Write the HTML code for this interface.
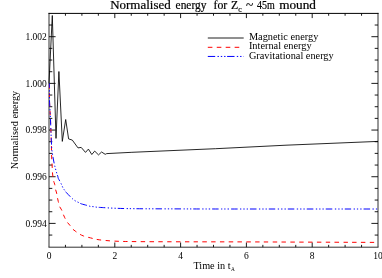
<!DOCTYPE html>
<html><head><meta charset="utf-8"><style>
html,body{margin:0;padding:0;background:#fff;}
body{width:382px;height:278px;overflow:hidden;}
svg{display:block;will-change:transform;}
text{font-family:"Liberation Serif",serif;fill:#000;}
</style></head><body>
<svg width="382" height="278" viewBox="0 0 382 278">
<path d="M49.0,247.2 V12.9 M378.0,12.9 V247.2 M48.5,247.2 H378.5" fill="none" stroke="#303030" stroke-width="1"/>
<path d="M48.5,13.4 H378.5" fill="none" stroke="#000" stroke-width="1"/>
<path d="M65.45,247.2 v-2.35 M65.45,13.4 v2.35 M81.90,247.2 v-2.35 M81.90,13.4 v2.35 M98.35,247.2 v-2.35 M98.35,13.4 v2.35 M114.80,247.2 v-4.7 M114.80,13.4 v4.7 M131.25,247.2 v-2.35 M131.25,13.4 v2.35 M147.70,247.2 v-2.35 M147.70,13.4 v2.35 M164.15,247.2 v-2.35 M164.15,13.4 v2.35 M180.60,247.2 v-4.7 M180.60,13.4 v4.7 M197.05,247.2 v-2.35 M197.05,13.4 v2.35 M213.50,247.2 v-2.35 M213.50,13.4 v2.35 M229.95,247.2 v-2.35 M229.95,13.4 v2.35 M246.40,247.2 v-4.7 M246.40,13.4 v4.7 M262.85,247.2 v-2.35 M262.85,13.4 v2.35 M279.30,247.2 v-2.35 M279.30,13.4 v2.35 M295.75,247.2 v-2.35 M295.75,13.4 v2.35 M312.20,247.2 v-4.7 M312.20,13.4 v4.7 M328.65,247.2 v-2.35 M328.65,13.4 v2.35 M345.10,247.2 v-2.35 M345.10,13.4 v2.35 M361.55,247.2 v-2.35 M361.55,13.4 v2.35 M49.0,235.07 h3.3 M378.0,235.07 h-3.3 M49.0,223.40 h6.6 M378.0,223.40 h-6.6 M49.0,211.73 h3.3 M378.0,211.73 h-3.3 M49.0,200.06 h3.3 M378.0,200.06 h-3.3 M49.0,188.39 h3.3 M378.0,188.39 h-3.3 M49.0,176.73 h6.6 M378.0,176.73 h-6.6 M49.0,165.06 h3.3 M378.0,165.06 h-3.3 M49.0,153.39 h3.3 M378.0,153.39 h-3.3 M49.0,141.72 h3.3 M378.0,141.72 h-3.3 M49.0,130.05 h6.6 M378.0,130.05 h-6.6 M49.0,118.38 h3.3 M378.0,118.38 h-3.3 M49.0,106.71 h3.3 M378.0,106.71 h-3.3 M49.0,95.04 h3.3 M378.0,95.04 h-3.3 M49.0,83.38 h6.6 M378.0,83.38 h-6.6 M49.0,71.71 h3.3 M378.0,71.71 h-3.3 M49.0,60.04 h3.3 M378.0,60.04 h-3.3 M49.0,48.37 h3.3 M378.0,48.37 h-3.3 M49.0,36.70 h6.6 M378.0,36.70 h-6.6 M49.0,25.03 h3.3 M378.0,25.03 h-3.3" stroke="#000" stroke-width="0.9" fill="none"/>
<path d="M49.40,83.40 C49.42,86.17 49.40,95.57 49.50,100.00 C49.60,104.43 49.83,106.67 50.00,110.00 C50.17,113.33 50.35,116.67 50.50,120.00 C50.65,123.33 50.77,126.33 50.90,130.00 C51.03,133.67 51.20,138.67 51.30,142.00 C51.40,145.33 51.43,147.33 51.50,150.00 C51.57,152.67 51.60,155.50 51.70,158.00 C51.80,160.50 51.97,162.50 52.10,165.00 C52.23,167.50 52.27,170.43 52.50,173.00 C52.73,175.57 53.13,178.52 53.50,180.40 C53.87,182.28 54.37,182.85 54.70,184.30 C55.03,185.75 55.18,187.65 55.50,189.10 C55.82,190.55 56.30,191.68 56.60,193.00 C56.90,194.32 57.02,195.57 57.30,197.00 C57.58,198.43 57.93,200.05 58.30,201.60 C58.67,203.15 58.95,204.92 59.50,206.30 C60.05,207.68 60.98,208.58 61.60,209.90 C62.22,211.22 62.67,212.88 63.20,214.20 C63.73,215.52 64.15,216.50 64.80,217.80 C65.45,219.10 66.25,220.75 67.10,222.00 C67.95,223.25 69.00,224.15 69.90,225.30 C70.80,226.45 71.52,227.87 72.50,228.90 C73.48,229.93 74.65,230.65 75.80,231.50 C76.95,232.35 78.10,233.25 79.40,234.00 C80.70,234.75 81.73,235.35 83.60,236.00 C85.47,236.65 88.02,237.27 90.60,237.90 C93.18,238.53 95.17,239.27 99.10,239.80 C103.03,240.33 108.38,240.80 114.20,241.10 C120.02,241.40 123.03,241.48 134.00,241.60 C144.97,241.72 161.67,241.75 180.00,241.80 C198.33,241.85 211.00,241.80 244.00,241.90 C277.00,242.00 355.67,242.32 378.00,242.40" stroke="#ff0000" stroke-width="1" fill="none" stroke-dasharray="4.4 4.4" stroke-dashoffset="7.76" id="rd"/>
<path d="M49.40,83.40 C49.42,86.17 49.40,95.57 49.50,100.00 C49.60,104.43 49.83,106.67 50.00,110.00 C50.17,113.33 50.35,116.67 50.50,120.00 C50.65,123.33 50.75,126.33 50.90,130.00 C51.05,133.67 51.23,138.67 51.40,142.00 C51.57,145.33 51.55,147.00 51.90,150.00 C52.25,153.00 52.97,157.12 53.50,160.00 C54.03,162.88 54.53,165.03 55.10,167.30 C55.67,169.57 56.45,172.12 56.90,173.60 C57.35,175.08 57.57,175.40 57.80,176.20 C58.03,177.00 57.88,177.43 58.30,178.40 C58.72,179.37 59.75,180.95 60.30,182.00 C60.85,183.05 61.15,183.72 61.60,184.70 C62.05,185.68 62.47,186.93 63.00,187.90 C63.53,188.87 64.23,189.72 64.80,190.50 C65.37,191.28 65.37,191.45 66.40,192.60 C67.43,193.75 69.88,196.28 71.00,197.40 C72.12,198.52 72.32,198.68 73.10,199.30 C73.88,199.92 74.77,200.57 75.70,201.10 C76.63,201.63 77.73,202.03 78.70,202.50 C79.67,202.97 79.98,203.38 81.50,203.90 C83.02,204.42 86.32,205.18 87.80,205.60 C89.28,206.02 89.43,206.22 90.40,206.40 C91.37,206.58 92.52,206.57 93.60,206.70 C94.68,206.83 95.88,207.08 96.90,207.20 C97.92,207.32 96.82,207.23 99.70,207.40 C102.58,207.57 108.42,207.98 114.20,208.20 C119.98,208.42 123.43,208.58 134.40,208.70 C145.37,208.82 163.90,208.85 180.00,208.90 C196.10,208.95 198.00,208.98 231.00,209.00 C264.00,209.02 353.50,209.00 378.00,209.00" stroke="#0000ff" stroke-width="1" fill="none" stroke-dasharray="6.5 2.5 1.3 2 1.3 2 1.3 2" stroke-dashoffset="2.1" id="bl"/>
<path d="M49.0,83.4 L52.3,15.5 L56.0,138.4 L58.9,71.5 L62.3,141.4 L65.7,119.5 L68.6,138.9 L72.3,140.1 L78.0,147.9 L81.2,147.4 L85.5,152.4 L88.4,149.1 L91.8,154.5 L94.7,151.1 L98.5,154.9 L101.6,152.0 L105.2,154.3 L106.7,153.6 L131.9,152.3 L215.7,148.7 L286.0,145.2 L378.0,141.4" stroke="#000" stroke-width="0.85" fill="none" stroke-linejoin="miter" stroke-miterlimit="12"/>
<g font-size="9.5"><text x="49.0" y="258.8" text-anchor="middle">0</text><text x="114.8" y="258.8" text-anchor="middle">2</text><text x="180.6" y="258.8" text-anchor="middle">4</text><text x="246.4" y="258.8" text-anchor="middle">6</text><text x="312.2" y="258.8" text-anchor="middle">8</text><text x="378.0" y="258.8" text-anchor="middle">10</text><text x="46.8" y="39.8" text-anchor="end">1.002</text><text x="46.8" y="86.5" text-anchor="end">1.000</text><text x="46.8" y="133.2" text-anchor="end">0.998</text><text x="46.8" y="179.8" text-anchor="end">0.996</text><text x="46.8" y="226.5" text-anchor="end">0.994</text></g>
<g font-size="12" stroke="#000" stroke-width="0.2"><text x="110.2" y="9.3" textLength="60.5" lengthAdjust="spacingAndGlyphs">Normalised</text><text x="175.6" y="9.3" textLength="30.8" lengthAdjust="spacingAndGlyphs">energy</text><text x="213.5" y="9.3" textLength="13.8" lengthAdjust="spacingAndGlyphs">for</text><text x="231" y="9.3" textLength="7.2" lengthAdjust="spacingAndGlyphs">Z</text><text x="238.3" y="11.5" textLength="3.4" lengthAdjust="spacingAndGlyphs" font-size="7.5">c</text><text x="246" y="9.3" textLength="7.2" lengthAdjust="spacingAndGlyphs">~</text><text x="257" y="9.3" textLength="17.8" lengthAdjust="spacingAndGlyphs">45m</text><text x="279.2" y="9.3" textLength="36.8" lengthAdjust="spacingAndGlyphs">mound</text></g>
<g font-size="9.7">
<text x="193.4" y="268.6" textLength="37.2" lengthAdjust="spacingAndGlyphs" font-size="10">Time in t</text>
<text x="231.0" y="270.6" textLength="3.8" lengthAdjust="spacingAndGlyphs" font-size="6.2">A</text>
<g transform="translate(17.8,169.2) rotate(-90)"><text x="0" y="0" textLength="78.4" lengthAdjust="spacingAndGlyphs" font-size="9.4">Normalised energy</text></g>
<text x="248.9" y="39.9" textLength="69.4" lengthAdjust="spacingAndGlyphs" font-size="10">Magnetic energy</text>
<text x="248.9" y="49.2" textLength="62.7" lengthAdjust="spacingAndGlyphs" font-size="10">Internal energy</text>
<text x="248.9" y="58.5" textLength="84.8" lengthAdjust="spacingAndGlyphs" font-size="10">Gravitational energy</text>
</g>
<path d="M207.8,38.0 H243.7" stroke="#202020" stroke-width="1"/>
<path d="M207.8,47.3 H240.5" stroke="#ff0000" stroke-width="1" stroke-dasharray="4.6 4.35"/>
<path d="M207.8,56.45 H243.7" stroke="#0000ff" stroke-width="1" stroke-dasharray="7.4 2.3 1.4 1.9 1.4 1.9 1.4 1.6"/>
</svg>
</body></html>
